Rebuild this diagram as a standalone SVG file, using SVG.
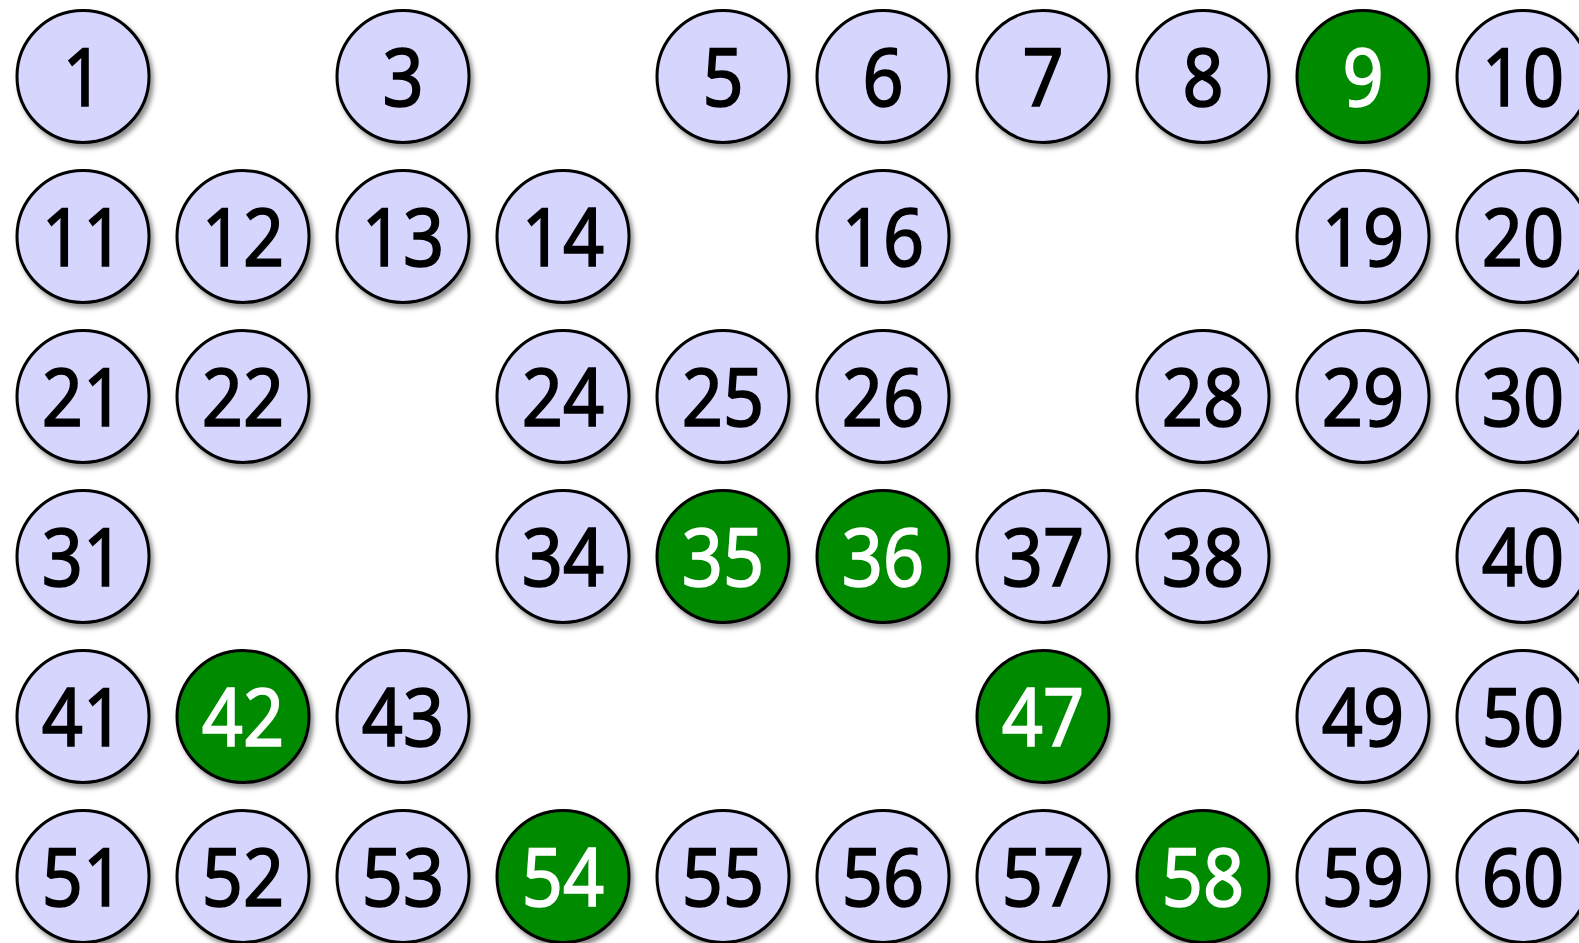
<svg xmlns="http://www.w3.org/2000/svg" width="1579" height="943" viewBox="0 0 1579 943">
<defs>
<filter id="sh" x="-20%" y="-20%" width="150%" height="150%">
<feDropShadow dx="3" dy="4" stdDeviation="2.5" flood-color="#000" flood-opacity="0.45"/>
</filter>
<style>
.n circle{fill:#d5d5fd;stroke:#000;stroke-width:3;filter:url(#sh)}
.g circle{fill:#008a00}
.n text{font-family:"Noto Sans",sans-serif;font-size:80px;text-anchor:middle;fill:#000;stroke:#000;stroke-width:1.6}
.g text{fill:#fff;stroke:#fff}
</style>
</defs>
<rect width="1579" height="943" fill="#fff"/>
<g id="connectors"/>
<g id="n1" class="n"><circle cx="83" cy="76.5" r="66"/><text transform="translate(83,106) scale(0.9,1)">1</text></g>
<g id="n3" class="n"><circle cx="403" cy="76.5" r="66"/><text transform="translate(403,106) scale(0.9,1)">3</text></g>
<g id="n5" class="n"><circle cx="723" cy="76.5" r="66"/><text transform="translate(723,106) scale(0.9,1)">5</text></g>
<g id="n6" class="n"><circle cx="883" cy="76.5" r="66"/><text transform="translate(883,106) scale(0.9,1)">6</text></g>
<g id="n7" class="n"><circle cx="1043" cy="76.5" r="66"/><text transform="translate(1043,106) scale(0.9,1)">7</text></g>
<g id="n8" class="n"><circle cx="1203" cy="76.5" r="66"/><text transform="translate(1203,106) scale(0.9,1)">8</text></g>
<g id="n9" class="n g"><circle cx="1363" cy="76.5" r="66"/><text transform="translate(1363,106) scale(0.9,1)">9</text></g>
<g id="n10" class="n"><circle cx="1523" cy="76.5" r="66"/><text transform="translate(1523,106) scale(0.9,1)">10</text></g>

<g id="n11" class="n"><circle cx="83" cy="236.5" r="66"/><text transform="translate(83,266) scale(0.9,1)">11</text></g>
<g id="n12" class="n"><circle cx="243" cy="236.5" r="66"/><text transform="translate(243,266) scale(0.9,1)">12</text></g>
<g id="n13" class="n"><circle cx="403" cy="236.5" r="66"/><text transform="translate(403,266) scale(0.9,1)">13</text></g>
<g id="n14" class="n"><circle cx="563" cy="236.5" r="66"/><text transform="translate(563,266) scale(0.9,1)">14</text></g>
<g id="n16" class="n"><circle cx="883" cy="236.5" r="66"/><text transform="translate(883,266) scale(0.9,1)">16</text></g>
<g id="n19" class="n"><circle cx="1363" cy="236.5" r="66"/><text transform="translate(1363,266) scale(0.9,1)">19</text></g>
<g id="n20" class="n"><circle cx="1523" cy="236.5" r="66"/><text transform="translate(1523,266) scale(0.9,1)">20</text></g>

<g id="n21" class="n"><circle cx="83" cy="396.5" r="66"/><text transform="translate(83,426) scale(0.9,1)">21</text></g>
<g id="n22" class="n"><circle cx="243" cy="396.5" r="66"/><text transform="translate(243,426) scale(0.9,1)">22</text></g>
<g id="n24" class="n"><circle cx="563" cy="396.5" r="66"/><text transform="translate(563,426) scale(0.9,1)">24</text></g>
<g id="n25" class="n"><circle cx="723" cy="396.5" r="66"/><text transform="translate(723,426) scale(0.9,1)">25</text></g>
<g id="n26" class="n"><circle cx="883" cy="396.5" r="66"/><text transform="translate(883,426) scale(0.9,1)">26</text></g>
<g id="n28" class="n"><circle cx="1203" cy="396.5" r="66"/><text transform="translate(1203,426) scale(0.9,1)">28</text></g>
<g id="n29" class="n"><circle cx="1363" cy="396.5" r="66"/><text transform="translate(1363,426) scale(0.9,1)">29</text></g>
<g id="n30" class="n"><circle cx="1523" cy="396.5" r="66"/><text transform="translate(1523,426) scale(0.9,1)">30</text></g>

<g id="n31" class="n"><circle cx="83" cy="556.5" r="66"/><text transform="translate(83,586) scale(0.9,1)">31</text></g>
<g id="n34" class="n"><circle cx="563" cy="556.5" r="66"/><text transform="translate(563,586) scale(0.9,1)">34</text></g>
<g id="n35" class="n g"><circle cx="723" cy="556.5" r="66"/><text transform="translate(723,586) scale(0.9,1)">35</text></g>
<g id="n36" class="n g"><circle cx="883" cy="556.5" r="66"/><text transform="translate(883,586) scale(0.9,1)">36</text></g>
<g id="n37" class="n"><circle cx="1043" cy="556.5" r="66"/><text transform="translate(1043,586) scale(0.9,1)">37</text></g>
<g id="n38" class="n"><circle cx="1203" cy="556.5" r="66"/><text transform="translate(1203,586) scale(0.9,1)">38</text></g>
<g id="n40" class="n"><circle cx="1523" cy="556.5" r="66"/><text transform="translate(1523,586) scale(0.9,1)">40</text></g>

<g id="n41" class="n"><circle cx="83" cy="716.5" r="66"/><text transform="translate(83,746) scale(0.9,1)">41</text></g>
<g id="n42" class="n g"><circle cx="243" cy="716.5" r="66"/><text transform="translate(243,746) scale(0.9,1)">42</text></g>
<g id="n43" class="n"><circle cx="403" cy="716.5" r="66"/><text transform="translate(403,746) scale(0.9,1)">43</text></g>
<g id="n47" class="n g"><circle cx="1043" cy="716.5" r="66"/><text transform="translate(1043,746) scale(0.9,1)">47</text></g>
<g id="n49" class="n"><circle cx="1363" cy="716.5" r="66"/><text transform="translate(1363,746) scale(0.9,1)">49</text></g>
<g id="n50" class="n"><circle cx="1523" cy="716.5" r="66"/><text transform="translate(1523,746) scale(0.9,1)">50</text></g>

<g id="n51" class="n"><circle cx="83" cy="876.5" r="66"/><text transform="translate(83,906) scale(0.9,1)">51</text></g>
<g id="n52" class="n"><circle cx="243" cy="876.5" r="66"/><text transform="translate(243,906) scale(0.9,1)">52</text></g>
<g id="n53" class="n"><circle cx="403" cy="876.5" r="66"/><text transform="translate(403,906) scale(0.9,1)">53</text></g>
<g id="n54" class="n g"><circle cx="563" cy="876.5" r="66"/><text transform="translate(563,906) scale(0.9,1)">54</text></g>
<g id="n55" class="n"><circle cx="723" cy="876.5" r="66"/><text transform="translate(723,906) scale(0.9,1)">55</text></g>
<g id="n56" class="n"><circle cx="883" cy="876.5" r="66"/><text transform="translate(883,906) scale(0.9,1)">56</text></g>
<g id="n57" class="n"><circle cx="1043" cy="876.5" r="66"/><text transform="translate(1043,906) scale(0.9,1)">57</text></g>
<g id="n58" class="n g"><circle cx="1203" cy="876.5" r="66"/><text transform="translate(1203,906) scale(0.9,1)">58</text></g>
<g id="n59" class="n"><circle cx="1363" cy="876.5" r="66"/><text transform="translate(1363,906) scale(0.9,1)">59</text></g>
<g id="n60" class="n"><circle cx="1523" cy="876.5" r="66"/><text transform="translate(1523,906) scale(0.9,1)">60</text></g>
</svg>
